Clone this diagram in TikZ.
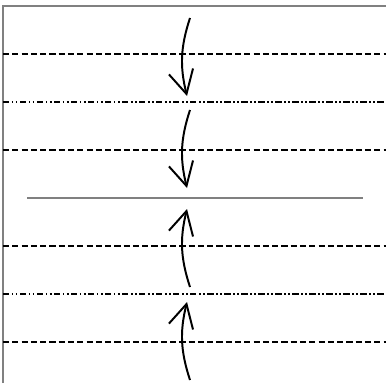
\documentclass[tikz,border=0pt]{standalone}
\usepackage{tikz}
\usetikzlibrary{arrows.meta}
\definecolor{framegray}{RGB}{128, 128, 128}

\begin{document}
\begin{tikzpicture}[
    x=0.025cm, y=-0.025cm,
    frameline/.style={draw=framegray, line width=1pt},
    midline/.style={draw=framegray, line width=1.1pt},
    dashline/.style={draw=black, line width=1.8pt, dash pattern=on 4.4pt off 2.2pt},
    dotline/.style={draw=black, line width=1.8pt,
                    dash pattern=on 4.5pt off 1.8pt on 1.1pt off 1.8pt on 1.1pt off 1.8pt},
    flow/.style={-{Straight Barb[length=5.8mm, width=6.2mm]}, line width=1.4pt, black}
]

%% ── PAGE ────────────────────────────────────────────────────────────────────
\useasboundingbox (0,0) rectangle (386,388);
\draw[frameline] (3,383) -- (3,6) -- (386,6);

%% ── LAYERS ──────────────────────────────────────────────────────────────────
\draw[dashline] (3, 54)  -- (386, 54);
\draw[dotline]  (3,102)  -- (386,102);
\draw[dashline] (3,150)  -- (386,150);
\draw[midline]  (27,198) -- (363,198);
\draw[dashline] (3,246)  -- (386,246);
\draw[dotline]  (3,294)  -- (386,294);
\draw[dashline] (3,342)  -- (386,342);

%% ── Arrow ends ──────────────────────────────────────────────────────────────
\coordinate (topA)  at (190, 18);
\coordinate (topB)  at (187, 96);
\coordinate (upA)   at (190,110);
\coordinate (upB)   at (187,188);
\coordinate (lowA)  at (190,287);
\coordinate (lowB)  at (187,209);
\coordinate (botA)  at (190,380);
\coordinate (botB)  at (187,302);

%% ── Flows ───────────────────────────────────────────────────────────────────
% towards the middle from above
\draw[flow] (topA) to[bend right=16] (topB);
\draw[flow] (upA)  to[bend right=16] (upB);

% towards the middle from below
\draw[flow] (lowA) to[bend left=16] (lowB);
\draw[flow] (botA) to[bend left=16] (botB);

\end{tikzpicture}
\end{document}
